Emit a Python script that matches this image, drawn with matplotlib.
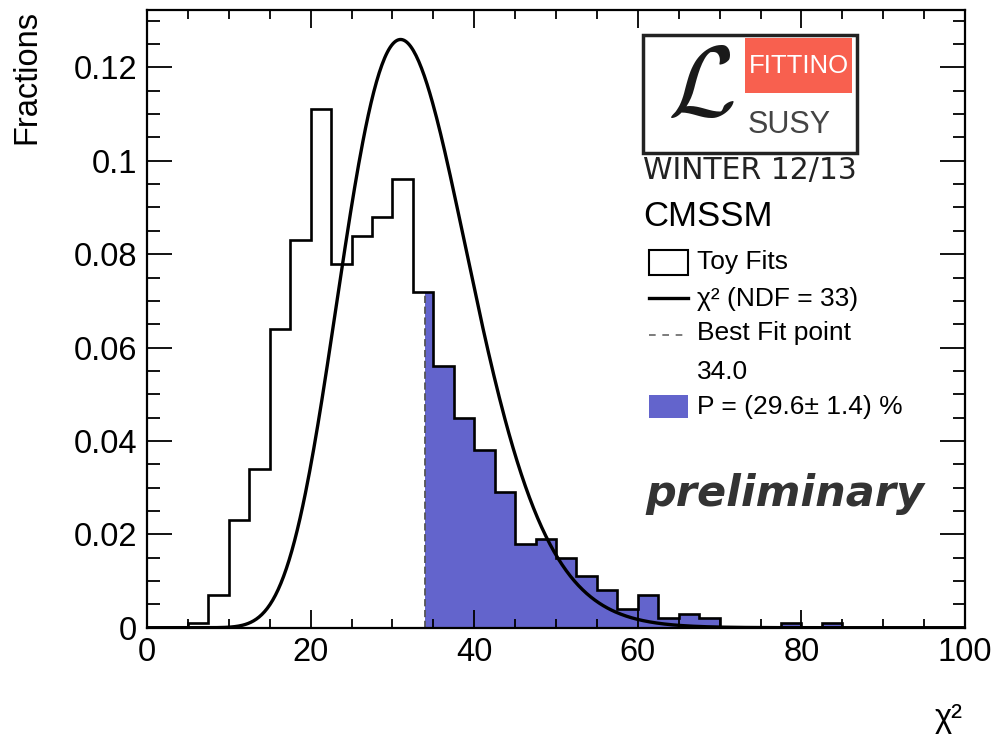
import math
import numpy as np
import matplotlib
matplotlib.use('Agg')
import matplotlib.pyplot as plt
from matplotlib.patches import Rectangle
from matplotlib.lines import Line2D
from matplotlib.ticker import MultipleLocator, FuncFormatter

plt.rcParams['font.family'] = ['Liberation Sans', 'DejaVu Sans']

# toy fit chi2 distribution, bins of 2.5 from 0 to 100
bin_width = 2.5
bin_lo, bin_hi = 0.0, 100.0
fractions = [0.000, 0.000, 0.001, 0.007, 0.023, 0.034, 0.064, 0.083,
             0.111, 0.078, 0.084, 0.088, 0.096, 0.072, 0.056, 0.045,
             0.038, 0.029, 0.018, 0.019, 0.015, 0.011, 0.008, 0.004,
             0.007, 0.002, 0.003, 0.002, 0.000, 0.000, 0.000, 0.001,
             0.000, 0.001, 0.000, 0.000, 0.000, 0.000, 0.000, 0.000]
ndf = 33
best_fit = 34.0
p_value = 29.6
p_error = 1.4

blue = '#6364cc'
W, H = 998, 734


def fx(px):
    return px / W


def fy(py):
    return 1 - py / H


edges = np.arange(bin_lo, bin_hi + bin_width / 2, bin_width)
frac = np.array(fractions)

fig = plt.figure(figsize=(W / 100, H / 100), dpi=100)
ax = fig.add_axes([fx(147), fy(627.7), (965 - 147) / W, (627.7 - 10) / H])

# shaded part above the best fit chi2
i0 = np.searchsorted(edges, best_fit) - 1
xs = np.concatenate([[best_fit], edges[i0 + 1:]])
ax.stairs(frac[i0:], xs, fill=True, color=blue, lw=0, zorder=1)
ax.plot([best_fit, best_fit], [0, frac[i0]], color='#555555', ls=(0, (4, 2)),
        lw=1.3, zorder=2)

ax.stairs(frac, edges, color='black', lw=1.9, zorder=3)

# chi2 pdf, normalised to the bin width
x = np.linspace(0.01, 100, 600)
k = ndf / 2.0
logpdf = (k - 1) * np.log(x) - x / 2 - k * math.log(2) - math.lgamma(k)
ax.plot(x, bin_width * np.exp(logpdf), color='black', lw=2.4, zorder=4)

ax.set_xlim(0, 100)
ax.set_ylim(0, 0.1323)
ax.xaxis.set_major_locator(MultipleLocator(20))
ax.xaxis.set_minor_locator(MultipleLocator(5))
ax.yaxis.set_major_locator(MultipleLocator(0.02))
ax.yaxis.set_minor_locator(MultipleLocator(0.005))
ax.xaxis.set_major_formatter(FuncFormatter(lambda v, p: f'{v:g}'))
ax.yaxis.set_major_formatter(FuncFormatter(lambda v, p: f'{v:g}'))
ax.tick_params(which='both', direction='in', top=True, right=True,
               labelsize=23.5, pad=7, width=1.3)
ax.tick_params(axis='y', which='major', length=18)
ax.tick_params(axis='y', which='minor', length=9)
ax.tick_params(axis='x', which='major', length=13)
ax.tick_params(axis='x', which='minor', length=6.5)
for s in ax.spines.values():
    s.set_linewidth(1.6)

fig.text(fx(27), fy(10), 'Fractions', rotation=90, ha='center', va='top',
         fontsize=23.5)
fig.text(fx(963), fy(718), 'χ²', ha='right', va='center', fontsize=23.5)

# logo
fig.add_artist(Rectangle((fx(643), fy(153)), (857 - 643) / W, (153 - 35) / H,
                         transform=fig.transFigure, fc='white', ec='#222222',
                         lw=2.5))
fig.add_artist(Rectangle((fx(745), fy(93)), (852 - 745) / W, (93 - 38) / H,
                         transform=fig.transFigure, fc='#f8604f', ec='none'))
fig.text(fx(799), fy(66), 'FITTINO', color='white', ha='center', va='center',
         fontsize=18.5)
fig.text(fx(789), fy(125), 'SUSY', color='#444444', ha='center',
         va='center', fontsize=22)
fig.text(fx(701), fy(90), r'$\mathcal{L}$', color='#1a1a1a', ha='center',
         va='center', fontsize=72, math_fontfamily='cm')

fig.text(fx(643), fy(171), 'WINTER 12/13', ha='left', va='center',
         fontsize=21.5, family='DejaVu Sans', color='#222222')
fig.text(fx(643), fy(216), 'CMSSM', ha='left', va='center', fontsize=25)

# legend
fig.add_artist(Rectangle((fx(649), fy(275)), 39 / W, 25 / H,
                         transform=fig.transFigure, fc='white', ec='black',
                         lw=1.5))
fig.add_artist(Line2D([fx(649), fx(688)], [fy(298), fy(298)],
                      transform=fig.transFigure, color='black', lw=2.4))
fig.add_artist(Line2D([fx(649), fx(688)], [fy(335), fy(335)],
                      transform=fig.transFigure, color='#666666', lw=1.2,
                      ls=(0, (4, 4))))
fig.add_artist(Rectangle((fx(649), fy(418)), 39 / W, 23 / H,
                         transform=fig.transFigure, fc=blue, ec='none'))
labels = [('Toy Fits', 262), (f'χ² (NDF = {ndf})', 299),
          ('Best Fit point', 333), (f'{best_fit:.1f}', 372),
          (f'P = ({p_value:.1f}± {p_error:.1f}) %', 407)]
for txt, py in labels:
    fig.text(fx(697), fy(py), txt, ha='left', va='center', fontsize=19)

fig.text(fx(645), fy(494), 'preliminary', ha='left', va='center',
         fontsize=31, family='DejaVu Sans', weight='bold', style='italic',
         color='#333333')

fig.savefig('out.png', dpi=100)
